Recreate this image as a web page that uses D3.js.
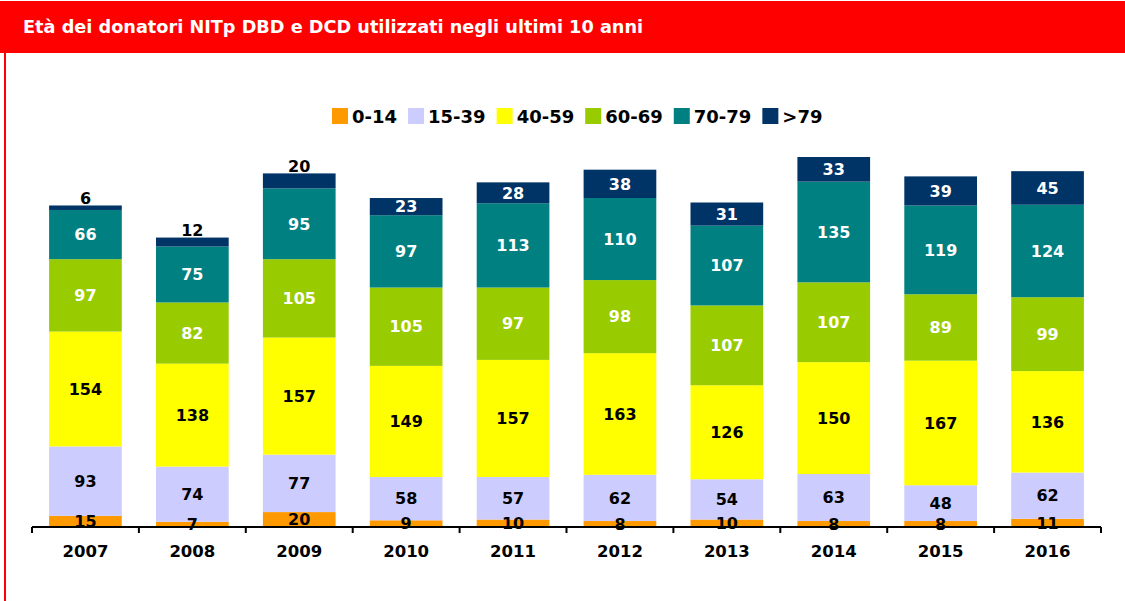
<!DOCTYPE html>
<html><head><meta charset="utf-8">
<script src="https://cdn.jsdelivr.net/npm/d3@7"></script>
<style>body{margin:0;background:#fff}svg{display:block}</style>
</head><body>
<svg id="c" width="1125" height="601"></svg>
<script>
const years = ["2007","2008","2009","2010","2011","2012","2013","2014","2015","2016"];
const groups = ["0-14","15-39","40-59","60-69","70-79",">79"];
const colors = ["#FF9900","#CCCCFF","#FFFF00","#99CC00","#008080","#003366"];
const labelColors = ["#000","#000","#000","#fff","#fff","#fff"];
const v0_14  = [15,7,20,9,10,8,10,8,8,11];
const v15_39 = [93,74,77,58,57,62,54,63,48,62];
const v40_59 = [154,138,157,149,157,163,126,150,167,136];
const v60_69 = [97,82,105,105,97,98,107,107,89,99];
const v70_79 = [66,75,95,97,113,110,107,135,119,124];
const v79p   = [6,12,20,23,28,38,31,33,39,45];
const title = "Età dei donatori NITp DBD e DCD utilizzati negli ultimi 10 anni";

const series = [v0_14,v15_39,v40_59,v60_69,v70_79,v79p];
const table = years.map((y,i)=>{const o={year:y}; groups.forEach((g,k)=>o[g]=series[k][i]); return o;});
const stack = d3.stack().keys(groups)(table);

const svg = d3.select("#c");
const font = "Verdana, 'DejaVu Sans', sans-serif";
// header
svg.append("rect").attr("x",0).attr("y",1).attr("width",1125).attr("height",52).attr("fill","#FF0000");
svg.append("rect").attr("x",4).attr("y",53).attr("width",2).attr("height",548).attr("fill","#FF0000");
svg.append("text").attr("x",23).attr("y",33).text(title)
  .attr("fill","#fff").attr("font-family",font).attr("font-weight","bold").attr("font-size",17.7);

const x = d3.scaleBand().domain(years).range([32,1101]).paddingInner(0.32).paddingOuter(0.16);
const y = d3.scaleLinear().domain([0,496]).range([527,157]);

const g = svg.append("g");
stack.forEach((s,k)=>{
  g.selectAll(null).data(s).enter().append("rect")
    .attr("x",d=>x(d.data.year)).attr("width",x.bandwidth())
    .attr("y",d=>y(d[1])).attr("height",d=>y(d[0])-y(d[1]))
    .attr("fill",colors[k]);
});
stack.forEach((s,k)=>{
  g.selectAll(null).data(s).enter().append("text")
    .attr("x",d=>x(d.data.year)+x.bandwidth()/2)
    .attr("y",d=>{
      const v=d[1]-d[0];
      if(k===5 && v<21) return y(d[1])-7;
      return (y(d[0])+y(d[1]))/2;
    })
    .attr("dy","0.36em")
    .attr("text-anchor","middle")
    .attr("fill",d=>(k===5 && d[1]-d[0]<21)?"#000":labelColors[k])
    .attr("font-family",font).attr("font-weight","bold").attr("font-size",16)
    .text(d=>d[1]-d[0]);
});

// axis
const ax = svg.append("g").attr("transform","translate(0,527)");
ax.append("line").attr("x1",32).attr("x2",1101).attr("stroke","#000").attr("stroke-width",2);
const edges = years.map(yv=>x(yv)-x.step()*x.paddingInner()/2).concat([1101]);
ax.selectAll(null).data(edges).enter().append("line")
  .attr("x1",d=>d).attr("x2",d=>d).attr("y1",0).attr("y2",6).attr("stroke","#000").attr("stroke-width",2);
ax.selectAll(null).data(years).enter().append("text")
  .attr("x",d=>x(d)+x.bandwidth()/2).attr("y",30).attr("text-anchor","middle")
  .attr("font-family",font).attr("font-weight","bold").attr("font-size",16.5).text(d=>d);

// legend
const lg = svg.append("g").attr("transform","translate(332,108)");
let lx = 0;
groups.forEach((gname,k)=>{
  const it = lg.append("g").attr("transform",`translate(${lx},0)`);
  it.append("rect").attr("width",16).attr("height",16).attr("fill",colors[k]);
  const t = it.append("text").attr("x",20).attr("y",14.5).text(gname)
    .attr("font-family",font).attr("font-weight","bold").attr("font-size",18);
  lx += 20 + t.node().getComputedTextLength() + 11;
});
</script>
</body></html>
